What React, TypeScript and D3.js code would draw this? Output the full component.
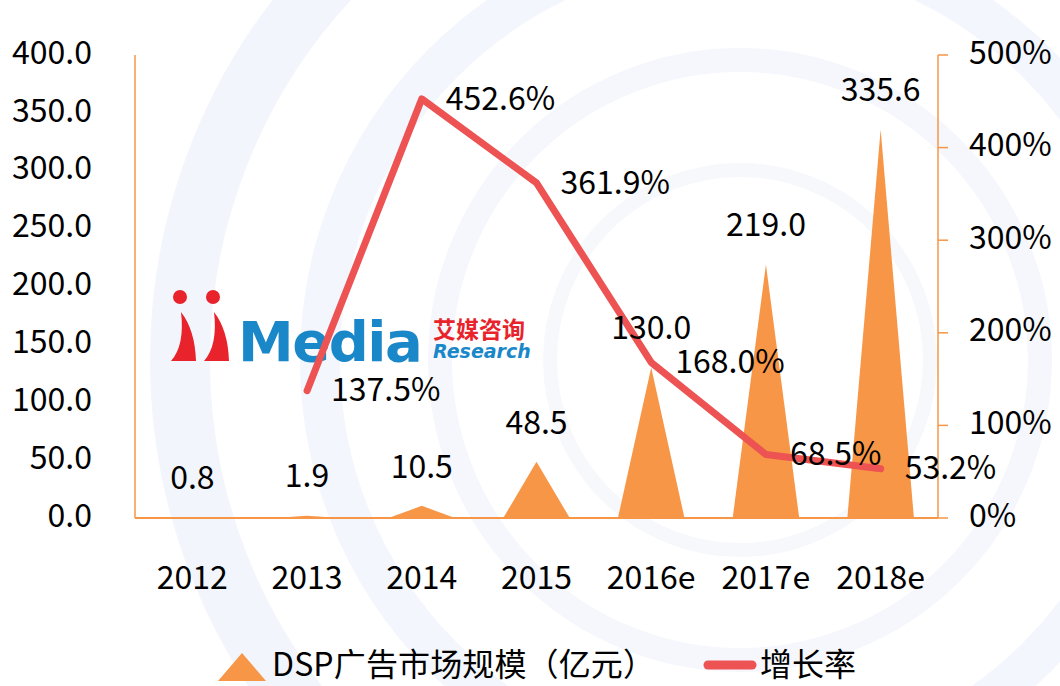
import React from 'react';
import * as d3 from 'd3';

const categories = ['2012', '2013', '2014', '2015', '2016e', '2017e', '2018e'];
const marketSize = [0.8, 1.9, 10.5, 48.5, 130.0, 219.0, 335.6];
const growthYears = ['2013', '2014', '2015', '2016e', '2017e', '2018e'];
const growthRate = [137.5, 452.6, 361.9, 168.0, 68.5, 53.2];
const leftTicks = [0, 50, 100, 150, 200, 250, 300, 350, 400];
const rightTicks = [0, 100, 200, 300, 400, 500];

const ORANGE = '#f79646';
const RED = '#ec5352';
const FONT = '"Noto Sans CJK SC", "Noto Sans", sans-serif';

const App = () => {
  const width = 1060;
  const height = 686;
  const left = 135;
  const right = 938;
  const top = 55;
  const bottom = 518;
  const fs = 32;

  const x = d3.scaleBand().domain(categories).range([left, right]).padding(0);
  const yL = d3.scaleLinear().domain([0, 400]).range([bottom, top]);
  const yR = d3.scaleLinear().domain([0, 500]).range([bottom, top]);
  const cx = (c: string) => (x(c) as number) + x.bandwidth() / 2;
  const half = x.bandwidth() * 0.29;

  const line = d3
    .line<number>()
    .x((_, i) => cx(growthYears[i]))
    .y(d => yR(d));

  return (
    <svg
      width={width}
      height={height}
      style={{ position: 'absolute', left: 0, top: 0, background: '#fff' }}
      fontFamily={FONT}
    >
      {/* faint decorative background */}
      <g fill="none">
        <circle cx={740} cy={360} r={560} strokeWidth={60} stroke="#f2f5fb" />
        <circle cx={740} cy={360} r={420} strokeWidth={40} stroke="#f3f6fc" />
        <circle cx={740} cy={360} r={300} strokeWidth={24} stroke="#f5f7fc" />
        <circle cx={740} cy={360} r={190} strokeWidth={14} stroke="#f6f8fc" />
      </g>

      {/* logo watermark */}
      <g>
        <circle cx={180} cy={297} r={7} fill="#e8232b" />
        <circle cx={213} cy={297} r={7} fill="#e8232b" />
        <path d="M171,361 Q185,345 181,312 Q195,330 196,361 Z" fill="#e8232b" />
        <path d="M204,361 Q218,345 214,312 Q228,330 229,361 Z" fill="#e8232b" />
        <text x={238} y={361} fontSize={56} fontWeight="bold" fill="#1a87c9" fontFamily="DejaVu Sans, sans-serif" letterSpacing={-1.5}>
          Media
        </text>
        <text x={433} y={338} fontSize={23} fontWeight="bold" fill="#e8232b" fontFamily={FONT}>
          艾媒咨询
        </text>
        <text x={433} y={358} fontSize={19} fontWeight="bold" fontStyle="italic" fill="#1a87c9" fontFamily="DejaVu Sans, sans-serif">
          Research
        </text>
      </g>

      {/* axes */}
      <line x1={left} x2={left} y1={top} y2={bottom} stroke={ORANGE} strokeWidth={1.5} />
      <line x1={left} x2={right} y1={bottom} y2={bottom} stroke={ORANGE} strokeWidth={2} />
      <line x1={right} x2={right} y1={top} y2={bottom} stroke={ORANGE} strokeWidth={1.5} />
      {rightTicks.map(t => (
        <line key={t} x1={right} x2={right + 10} y1={yR(t)} y2={yR(t)} stroke={ORANGE} strokeWidth={1.5} />
      ))}

      {leftTicks.map(t => (
        <text key={t} x={92} y={yL(t)} textAnchor="end" dominantBaseline="middle" fontSize={fs} fill="#000">
          {t.toFixed(1)}
        </text>
      ))}
      {rightTicks.map(t => (
        <text key={t} x={969} y={yR(t)} dominantBaseline="middle" fontSize={fs} fill="#000">
          {t + '%'}
        </text>
      ))}
      {categories.map(c => (
        <text key={c} x={cx(c)} y={580} textAnchor="middle" dominantBaseline="middle" fontSize={fs} fill="#000">
          {c}
        </text>
      ))}

      {/* triangle bars */}
      {categories.map((c, i) => (
        <path
          key={c}
          d={`M${cx(c) - half},${bottom} L${cx(c)},${yL(marketSize[i])} L${cx(c) + half},${bottom} Z`}
          fill={ORANGE}
        />
      ))}

      {/* growth line */}
      <path d={line(growthRate) || ''} fill="none" stroke={RED} strokeWidth={7} strokeLinejoin="round" strokeLinecap="round" />

      {/* bar labels */}
      {categories.map((c, i) => (
        <text key={c} x={cx(c)} y={yL(marketSize[i]) - 37} textAnchor="middle" dominantBaseline="middle" fontSize={fs} fill="#000">
          {marketSize[i].toFixed(1)}
        </text>
      ))}
      {/* line labels */}
      {growthYears.map((c, i) => (
        <text key={c} x={cx(c) + 24} y={yR(growthRate[i]) + 2} dominantBaseline="middle" fontSize={fs} fill="#000">
          {growthRate[i].toFixed(1) + '%'}
        </text>
      ))}

      {/* legend */}
      <path d="M218,681 L242,653 L266,681 Z" fill={ORANGE} />
      <text x={272} y={667} dominantBaseline="middle" fontSize={fs} fill="#000" textLength={383} lengthAdjust="spacing">
        DSP广告市场规模（亿元）
      </text>
      <line x1={708} x2={752} y1={665} y2={665} stroke={RED} strokeWidth={9} strokeLinecap="round" />
      <text x={760} y={667} dominantBaseline="middle" fontSize={fs} fill="#000">
        增长率
      </text>
    </svg>
  );
};

export default App;
